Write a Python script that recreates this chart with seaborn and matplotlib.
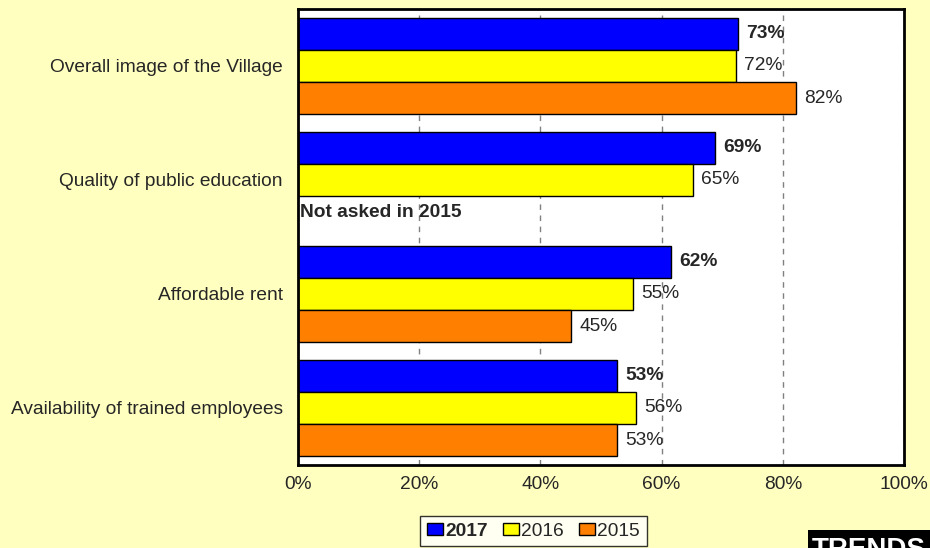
import pandas as pd
import numpy as np
import matplotlib
matplotlib.use('Agg')
import matplotlib.pyplot as plt
import seaborn as sns
from matplotlib.patches import Rectangle

categories = ['Overall image of the Village', 'Quality of public education',
              'Affordable rent', 'Availability of trained employees']
years = ['2017', '2016', '2015']
vals_2017 = [72.6, 68.8, 61.6, 52.7]
vals_2016 = [72.2, 65.1, 55.2, 55.8]
vals_2015 = [82.1, np.nan, 45.0, 52.7]
xticks = [0, 20, 40, 60, 80, 100]
note_text = 'Not asked in 2015'

bg = '#FFFFC0'
colors = {'2017': '#0000FF', '2016': '#FFFF00', '2015': '#FF8000'}
fs = 13.8

rows = []
for yr, vals in zip(years, [vals_2017, vals_2016, vals_2015]):
    for c, v in zip(categories, vals):
        rows.append({'Item': c, 'Year': yr, 'Pct': v})
data = pd.DataFrame(rows)

sns.set_style('white')
plt.rcParams['font.family'] = ['Liberation Sans', 'DejaVu Sans']

fig = plt.figure(figsize=(9.3, 5.48), dpi=100, facecolor=bg)
ax = fig.add_axes([298/930, 1-465/548, (904-298)/930, (465-9)/548])

sns.barplot(data=data, y='Item', x='Pct', hue='Year', hue_order=years,
            order=categories, orient='h', palette=colors, width=0.85,
            edgecolor='black', linewidth=1, saturation=1, legend=False, ax=ax)

ax.set_xlim(0, 100)
ax.set_ylim(3.5, -0.5)
ax.set_xticks(xticks)
ax.set_xticklabels([f'{t}%' for t in xticks], fontsize=fs)
ax.tick_params(axis='x', length=0, pad=8)
ax.tick_params(axis='y', length=0, pad=11, labelsize=fs)
ax.set_xlabel('')
ax.set_ylabel('')
ax.set_facecolor('white')
ax.grid(axis='x', color='#808080', linestyle=(0, (4, 4)), linewidth=1)
ax.grid(axis='y', visible=False)
ax.set_axisbelow(True)
for s in ax.spines.values():
    s.set_visible(True)
    s.set_color('black')
    s.set_linewidth(2)

# value labels
for yr, cont in zip(years, ax.containers):
    for bar in cont:
        w = bar.get_width()
        if np.isnan(w):
            continue
        ax.annotate(f'{int(w + 0.5)}%', (w, bar.get_y() + bar.get_height()/2),
                    xytext=(6, 0), textcoords='offset points', va='center',
                    ha='left', fontsize=fs,
                    fontweight='bold' if yr == '2017' else 'normal')

# missing 2015 note
ax.text(0.3, 1 + 0.85/3, note_text, fontsize=fs, fontweight='bold',
        va='center', ha='left')

# legend
handles = [Rectangle((0, 0), 1, 1, facecolor=colors[y], edgecolor='black', linewidth=1)
           for y in years]
leg = fig.legend(handles, years, loc='upper left',
                 bbox_to_anchor=(420/930, 1-516/548), ncol=3, fontsize=fs,
                 frameon=True, fancybox=False, edgecolor='black',
                 handlelength=0.85, handleheight=0.6, handletextpad=0.1,
                 columnspacing=0.8, borderpad=0.35, borderaxespad=0)
leg.get_frame().set_linewidth(1)
leg.get_texts()[0].set_fontweight('bold')

# logo box in the corner
fig.patches.append(Rectangle((808/930, 0), 1, 18/548, transform=fig.transFigure,
                             facecolor='black', edgecolor='none'))
fig.text(812/930, 1-537/548, 'TRENDS', color='white', fontsize=20,
         fontweight='bold', va='top', ha='left')

plt.savefig('out.png', dpi=100, facecolor=bg)
